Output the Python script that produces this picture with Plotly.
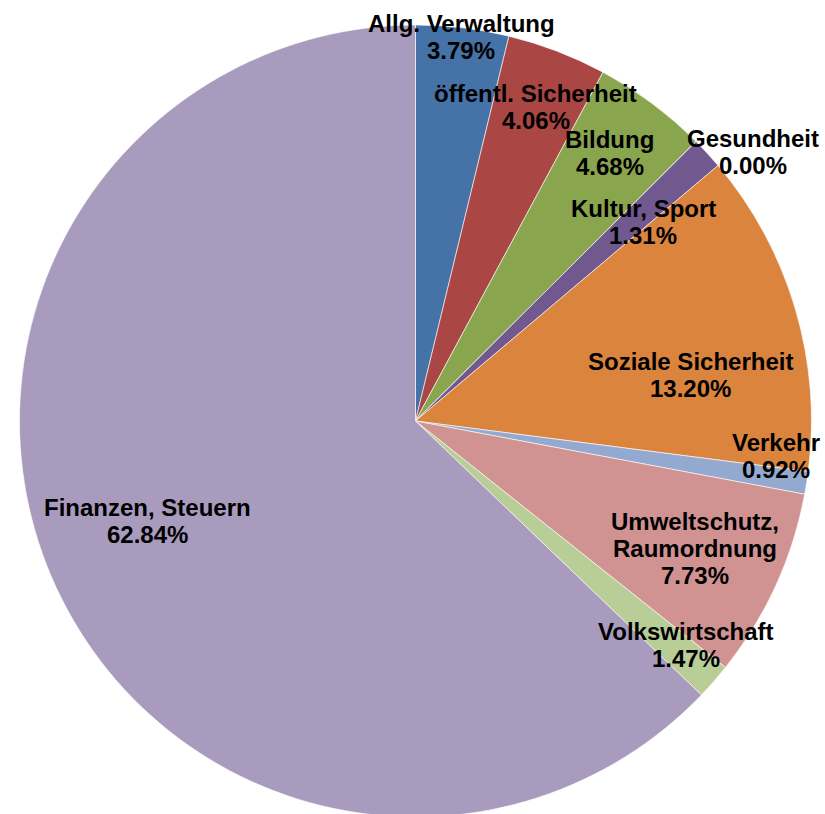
import math
import plotly.graph_objects as go

# ---- data ----
categories = ["Allg. Verwaltung", "öffentl. Sicherheit", "Bildung", "Gesundheit",
              "Kultur, Sport", "Soziale Sicherheit", "Verkehr",
              "Umweltschutz, Raumordnung", "Volkswirtschaft", "Finanzen, Steuern"]
shares = [3.79, 4.06, 4.68, 0.00, 1.31, 13.20, 0.92, 7.73, 1.47, 62.84]
label_lines = [["Allg. Verwaltung"], ["öffentl. Sicherheit"], ["Bildung"], ["Gesundheit"],
               ["Kultur, Sport"], ["Soziale Sicherheit"], ["Verkehr"],
               ["Umweltschutz,", "Raumordnung"], ["Volkswirtschaft"], ["Finanzen, Steuern"]]

# ---- styles / layout ----
colors = ["#4572A7", "#AA4643", "#89A54E", "#80699B", "#71588F", "#DB843D",
          "#93A9CF", "#D19392", "#B9CD96", "#A99BBD"]
label_radius = [0.980, 0.850, 0.839, 1.093, 0.766, 0.707, 0.917, 0.777, 0.890, 0.724]
label_angle_shift = [0, 0, -0.76, 6.3, 1.42, 6.88, -3.38, 0, -1.56, 2.71]

W, H = 825, 840          # figure taller than the window: the pie's bottom is cut like the reference
CX, CY, R = 415.5, 421.0, 396.0   # pixel centre (from top) and radius
LR = 395.0                         # radius used for label placement
FONT = "Liberation Sans, Arial, sans-serif"
FS = 24
LINE = 27

dom_x = [(CX - R) / W, (CX + R) / W]
dom_y = [(H - CY - R) / H, (H - CY + R) / H]

fig = go.Figure(go.Pie(
    labels=categories, values=shares, sort=False, direction="clockwise", rotation=0,
    marker=dict(colors=colors, line=dict(color="white", width=0.6)),
    textinfo="none", hoverinfo="skip", showlegend=False,
    domain=dict(x=dom_x, y=dom_y),
))

total = sum(shares)
cum = 0.0
annotations = []
for i, v in enumerate(shares):
    mid = (cum + v / 2) / total * 360 + label_angle_shift[i]
    cum += v
    rr = LR * label_radius[i]
    px = CX + rr * math.sin(math.radians(mid))
    py = CY - rr * math.cos(math.radians(mid))
    lines = label_lines[i] + [f"{v:.2f}%"]
    n = len(lines)
    for j, t in enumerate(lines):
        ly = py + (j - (n - 1) / 2) * LINE
        annotations.append(dict(
            x=px / W, y=(H - ly) / H, xref="paper", yref="paper",
            text=f"<b>{t}</b>", showarrow=False, xanchor="center", yanchor="middle",
            font=dict(family=FONT, size=FS, color="black"),
        ))

fig.update_layout(
    width=W, height=H, margin=dict(l=0, r=0, t=0, b=0),
    paper_bgcolor="white", plot_bgcolor="white",
    annotations=annotations,
)

fig.write_html("out.html", config={"displayModeBar": False},
               post_script="document.body.style.margin='0';document.body.style.overflow='hidden';")
